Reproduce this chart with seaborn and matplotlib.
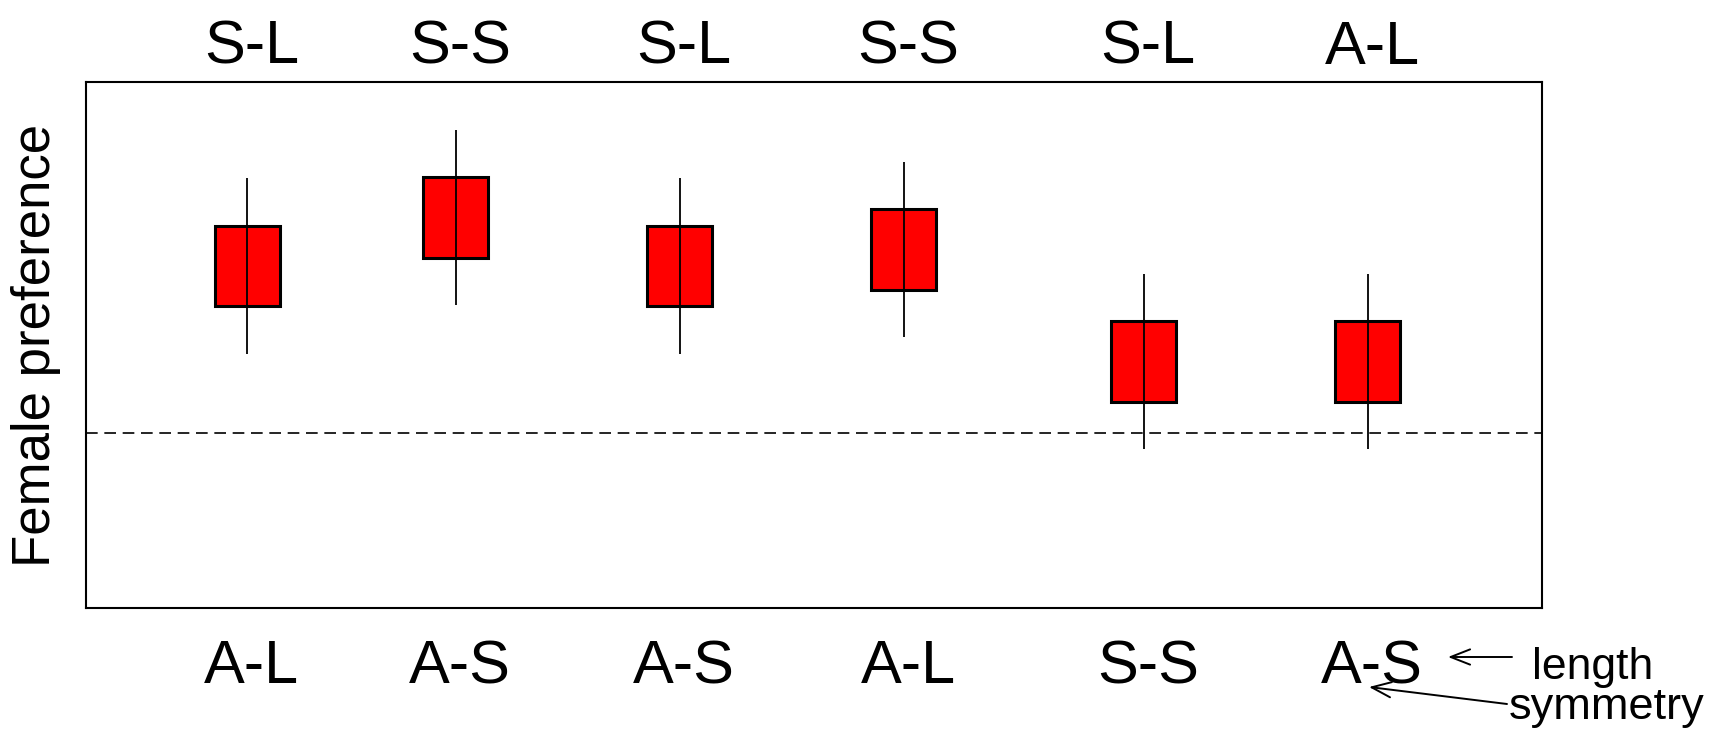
import matplotlib
matplotlib.use("Agg")
import matplotlib.pyplot as plt
import seaborn as sns
import pandas as pd

# Female preference for each pairing of tail stimuli
positions = [1.0, 1.93, 2.93, 3.93, 5.0, 6.0]
top_labels = ["S-L", "S-S", "S-L", "S-S", "S-L", "A-L"]
bottom_labels = ["A-L", "A-S", "A-S", "A-L", "S-S", "A-S"]
means = [0.690, 0.745, 0.690, 0.709, 0.581, 0.581]
se = [0.046, 0.046, 0.046, 0.046, 0.046, 0.046]
ci = [0.100, 0.100, 0.100, 0.100, 0.100, 0.100]
chance = 0.5

df = pd.DataFrame({"pos": positions, "mean": means, "se": se, "ci": ci,
                   "top": top_labels, "bottom": bottom_labels})

sns.set_style("white")
plt.rcParams["font.family"] = ["Liberation Sans", "DejaVu Sans"]
plt.rcParams["text.color"] = "black"
plt.rcParams["axes.labelcolor"] = "black"

fig = plt.figure(figsize=(17.31, 7.39), dpi=100)
ax = fig.add_axes([0.0497, 0.1769, 0.8412, 0.7126])

# whiskers (interval) behind boxes (mean ± SE)
ax.vlines(df["pos"], df["mean"] - df["ci"], df["mean"] + df["ci"],
          color="black", lw=1.3, zorder=1)
ax.bar(df["pos"], 2 * df["se"], bottom=df["mean"] - df["se"], width=0.29,
       color="#ff0000", edgecolor="black", linewidth=2.2, zorder=2)
ax.vlines(df["pos"], df["mean"] - df["se"], df["mean"] + df["se"],
          color="black", lw=1.3, zorder=3)

ax.axhline(chance, color="black", lw=1.2, ls=(0, (7, 4)), zorder=0)

ax.set_xlim(0.281, 6.778)
ax.set_ylim(0.3, 0.9)
ax.set_xticks([])
ax.set_yticks([])
ax.set_ylabel("Female preference", fontsize=38, labelpad=18, color="black")
for s in ax.spines.values():
    s.set_visible(True)
    s.set_color("black")
    s.set_linewidth(1.5)

xt = ax.get_xaxis_transform()
for p, t, b in zip(df["pos"], df["top"], df["bottom"]):
    ax.text(p + 0.02, 1.0336, t, transform=xt, ha="center", va="baseline",
            fontsize=44, color="black", clip_on=False)
    ax.text(p + 0.02, -0.1426, b, transform=xt, ha="center", va="baseline",
            fontsize=44, color="black", clip_on=False)

# key to the label rows
fig.text(1532, 60, "length", transform=None, fontsize=32, va="baseline",
         color="black")
fig.text(1509, 20, "symmetry", transform=None, fontsize=32.5, va="baseline",
         color="black")
arrow = dict(arrowstyle="->,head_length=1.4,head_width=0.55", color="black",
             lw=1.4, shrinkA=0, shrinkB=0)
ax.annotate("", xy=(1448, 82), xycoords="figure pixels",
            xytext=(1512, 82), textcoords="figure pixels", arrowprops=arrow)
ax.annotate("", xy=(1369, 52), xycoords="figure pixels",
            xytext=(1507, 35), textcoords="figure pixels", arrowprops=arrow)

fig.savefig("out.png", dpi=100)
